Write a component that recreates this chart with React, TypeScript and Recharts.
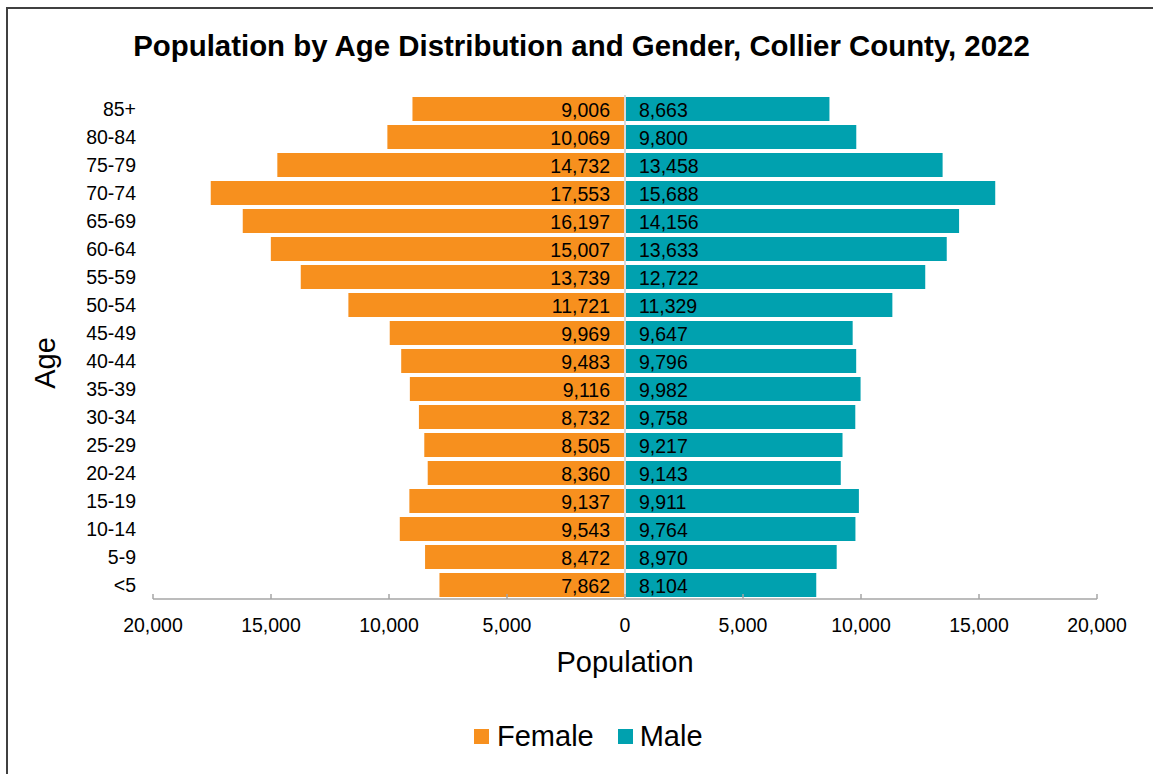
import React from 'react';
import { BarChart, Bar, XAxis, YAxis, ReferenceLine, LabelList } from 'recharts';

const ageGroups = ['85+', '80-84', '75-79', '70-74', '65-69', '60-64', '55-59', '50-54', '45-49', '40-44', '35-39', '30-34', '25-29', '20-24', '15-19', '10-14', '5-9', '<5'];
const female = [9006, 10069, 14732, 17553, 16197, 15007, 13739, 11721, 9969, 9483, 9116, 8732, 8505, 8360, 9137, 9543, 8472, 7862];
const male = [8663, 9800, 13458, 15688, 14156, 13633, 12722, 11329, 9647, 9796, 9982, 9758, 9217, 9143, 9911, 9764, 8970, 8104];
const xTicks = [-20000, -15000, -10000, -5000, 0, 5000, 10000, 15000, 20000];

const FEMALE_COLOR = '#F7901E';
const MALE_COLOR = '#00A1AF';
const FONT = '"Liberation Sans", Arial, Helvetica, sans-serif';
const LABEL_SIZE = 19.5;

const data = ageGroups.map((age, i) => ({
  age,
  female: -female[i],
  male: male[i],
  femaleLabel: female[i],
  maleLabel: male[i],
}));

const fmt = (v: number) => Math.abs(v).toLocaleString('en-US');

const FemaleLabel = (props: any) => {
  const vb = props.viewBox || props;
  const x = Number(vb.x), w = Number(vb.width), y = Number(vb.y), h = Number(vb.height);
  const right = Math.max(x, x + w);
  return (
    <text x={right - 15} y={y + h / 2 + 1} textAnchor="end" dominantBaseline="central" fontSize={LABEL_SIZE} fill="#000" fontFamily={FONT}>
      {fmt(props.value)}
    </text>
  );
};

const MaleLabel = (props: any) => {
  const vb = props.viewBox || props;
  const x = Number(vb.x), w = Number(vb.width), y = Number(vb.y), h = Number(vb.height);
  const left = Math.min(x, x + w);
  return (
    <text x={left + 14} y={y + h / 2 + 1} textAnchor="start" dominantBaseline="central" fontSize={LABEL_SIZE} fill="#000" fontFamily={FONT}>
      {fmt(props.value)}
    </text>
  );
};

const XTick = (props: any) => {
  const { x, y, payload } = props;
  return (
    <g>
      <line x1={x} x2={x} y1={y - 5} y2={y} stroke="#a6a6a6" strokeWidth={1.5} />
      <text x={x} y={y + 26} textAnchor="middle" dominantBaseline="central" fontSize={LABEL_SIZE} fill="#000" fontFamily={FONT}>
        {fmt(payload.value)}
      </text>
    </g>
  );
};

export default function App() {
  return (
    <div style={{ position: 'absolute', left: 0, top: 0, width: 1153, height: 774, background: '#fff', fontFamily: FONT, overflow: 'hidden' }}>
      <div style={{ position: 'absolute', left: 6, top: 7, right: -10, bottom: -10, borderLeft: '2px solid #404040', borderTop: '2px solid #404040' }} />
      <div style={{ position: 'absolute', left: 0, width: 1163, top: 28, textAlign: 'center', fontWeight: 'bold', fontSize: 29.4, color: '#000', lineHeight: '36px' }}>
        Population by Age Distribution and Gender, Collier County, 2022
      </div>
      <div style={{ position: 'absolute', left: 45, top: 363, transform: 'translate(-50%, -50%) rotate(-90deg)', fontSize: 29, color: '#000', whiteSpace: 'nowrap' }}>
        Age
      </div>
      <div style={{ position: 'absolute', left: 625, top: 662, transform: 'translate(-50%, -50%)', fontSize: 29, color: '#000', whiteSpace: 'nowrap' }}>
        Population
      </div>
      <div style={{ position: 'absolute', left: 0, top: 0 }}>
        <BarChart
          width={1153}
          height={774}
          data={data}
          layout="vertical"
          barSize={24}
          stackOffset="sign"
          margin={{ top: 95, right: 56, bottom: 145, left: 0 }}
        >
          <XAxis
            type="number"
            domain={[-20000, 20000]}
            ticks={xTicks}
            interval={0}
            tick={<XTick />}
            tickLine={false}
            tickSize={0}
            tickMargin={0}
            height={30}
            axisLine={{ stroke: '#a6a6a6', strokeWidth: 1.5 }}
          />
          <YAxis
            type="category"
            dataKey="age"
            width={153}
            tickLine={false}
            axisLine={false}
            tickSize={0}
            tickMargin={17}
            interval={0}
            tick={{ fontSize: LABEL_SIZE, fill: '#000', fontFamily: FONT }}
          />
          <Bar dataKey="female" name="Female" stackId="a" fill={FEMALE_COLOR} isAnimationActive={false}>
            <LabelList dataKey="femaleLabel" content={<FemaleLabel />} />
          </Bar>
          <Bar dataKey="male" name="Male" stackId="a" fill={MALE_COLOR} isAnimationActive={false}>
            <LabelList dataKey="maleLabel" content={<MaleLabel />} />
          </Bar>
          <ReferenceLine x={0} stroke="#d9d9d9" strokeWidth={2} ifOverflow="extendDomain" />
        </BarChart>
      </div>
      <div style={{ position: 'absolute', left: 474, top: 720, display: 'flex', alignItems: 'center', fontSize: 29, color: '#000', lineHeight: '32px', whiteSpace: 'nowrap' }}>
        <span style={{ width: 15, height: 15, background: FEMALE_COLOR, display: 'inline-block', marginRight: 8 }} />
        <span>Female</span>
        <span style={{ width: 15, height: 15, background: MALE_COLOR, display: 'inline-block', marginLeft: 24, marginRight: 7 }} />
        <span>Male</span>
      </div>
    </div>
  );
}
